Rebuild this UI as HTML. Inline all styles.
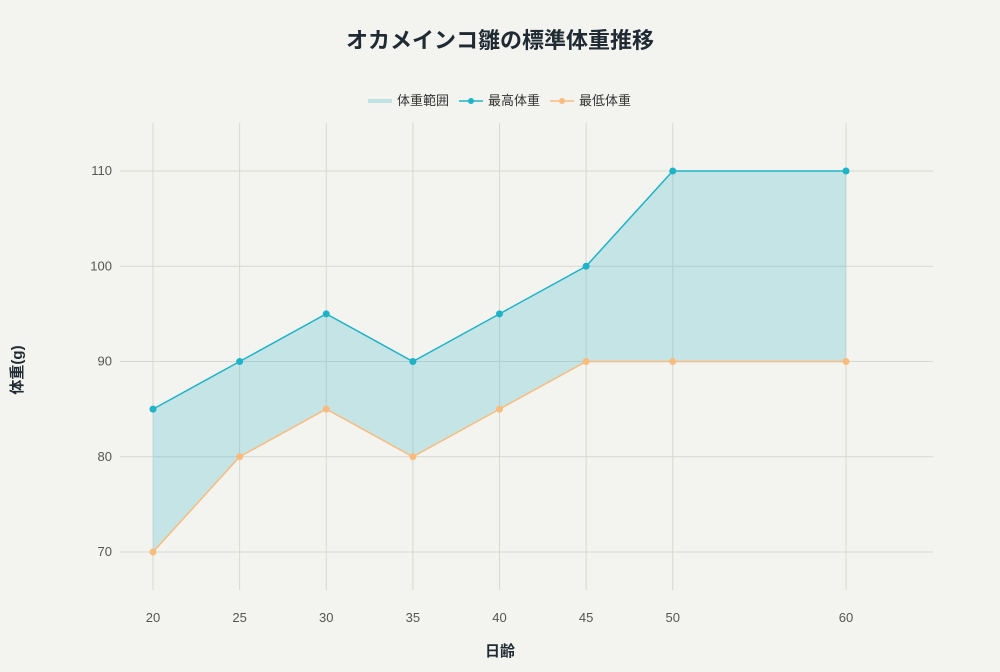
<!DOCTYPE html>
<html><head><meta charset="utf-8"><style>
body{margin:0;background:#f3f3ef;font-family:"Liberation Sans","Noto Sans CJK JP",sans-serif}
</style></head><body>
<svg id="c" width="1000" height="667" xmlns="http://www.w3.org/2000/svg" style="font-family:'Liberation Sans','Noto Sans CJK JP',sans-serif">
<rect width="1000" height="667" fill="#f3f3ef"/>
<text x="500" y="48" text-anchor="middle" font-size="22" font-weight="bold" fill="#1f2a33">オカメインコ雛の標準体重推移</text>
<g font-size="13" fill="#333">
<line x1="368" y1="101" x2="392" y2="101" stroke="#bfe3e4" stroke-width="4"/>
<text x="397" y="105">体重範囲</text>
<line x1="459" y1="101" x2="483" y2="101" stroke="#1fb3c8" stroke-width="1.5"/><circle cx="471" cy="101" r="3" fill="#1fb3c8"/>
<text x="488" y="105">最高体重</text>
<line x1="550" y1="101" x2="574" y2="101" stroke="#f9bc7e" stroke-width="1.5"/><circle cx="562" cy="101" r="3" fill="#f9bc7e"/>
<text x="579" y="105">最低体重</text>
</g>
<g id="plot"></g>
<text x="500" y="656" text-anchor="middle" font-size="15" font-weight="bold" fill="#1f2a33">日齢</text>
<text x="22" y="370" text-anchor="middle" font-size="15" font-weight="bold" fill="#1f2a33" transform="rotate(-90 22 370)">体重(g)</text>
</svg>
<script>
const days=[20,25,30,35,40,45,50,60];
const maxW=[85,90,95,90,95,100,110,110];
const minW=[70,80,85,80,85,90,90,90];
const yTicks=[70,80,90,100,110];
const NS='http://www.w3.org/2000/svg';
const X=d=>153+(d-20)*17.325, Y=v=>171+(110-v)*9.525;
const g=document.getElementById('plot');
function mk(t,a){const e=document.createElementNS(NS,t);for(const k in a)e.setAttribute(k,a[k]);g.appendChild(e);return e;}
yTicks.forEach(v=>{const l=mk('line',{x1:120,x2:933,y1:Y(v),y2:Y(v),stroke:'#d8d8d2','stroke-width':1});


const t=mk('text',{x:112,y:Y(v)+4,'text-anchor':'end','font-size':13,fill:'#555'});t.textContent=v;

});
days.forEach(d=>{const l=mk('line',{x1:X(d),x2:X(d),y1:123,y2:590,stroke:'#d8d8d2','stroke-width':1});


const t=mk('text',{x:X(d),y:622,'text-anchor':'middle','font-size':13,fill:'#555'});t.textContent=d;

});
let p=days.map((d,i)=>X(d)+','+Y(maxW[i])).join(' ')+' '+days.map((d,i)=>X(d)+','+Y(minW[i])).reverse().join(' ');
const area=mk('polygon',{points:p,fill:'#1fb3c8','fill-opacity':0.22});


[[maxW,'#1fb3c8','max'],[minW,'#f9bc7e','min']].forEach(([arr,c,n])=>{
const pl=mk('polyline',{points:days.map((d,i)=>X(d)+','+Y(arr[i])).join(' '),fill:'none',stroke:c,'stroke-width':1.5});


days.forEach((d,i)=>{const ci=mk('circle',{cx:X(d),cy:Y(arr[i]),r:3.5,fill:c});

});});
</script>
</body></html>
